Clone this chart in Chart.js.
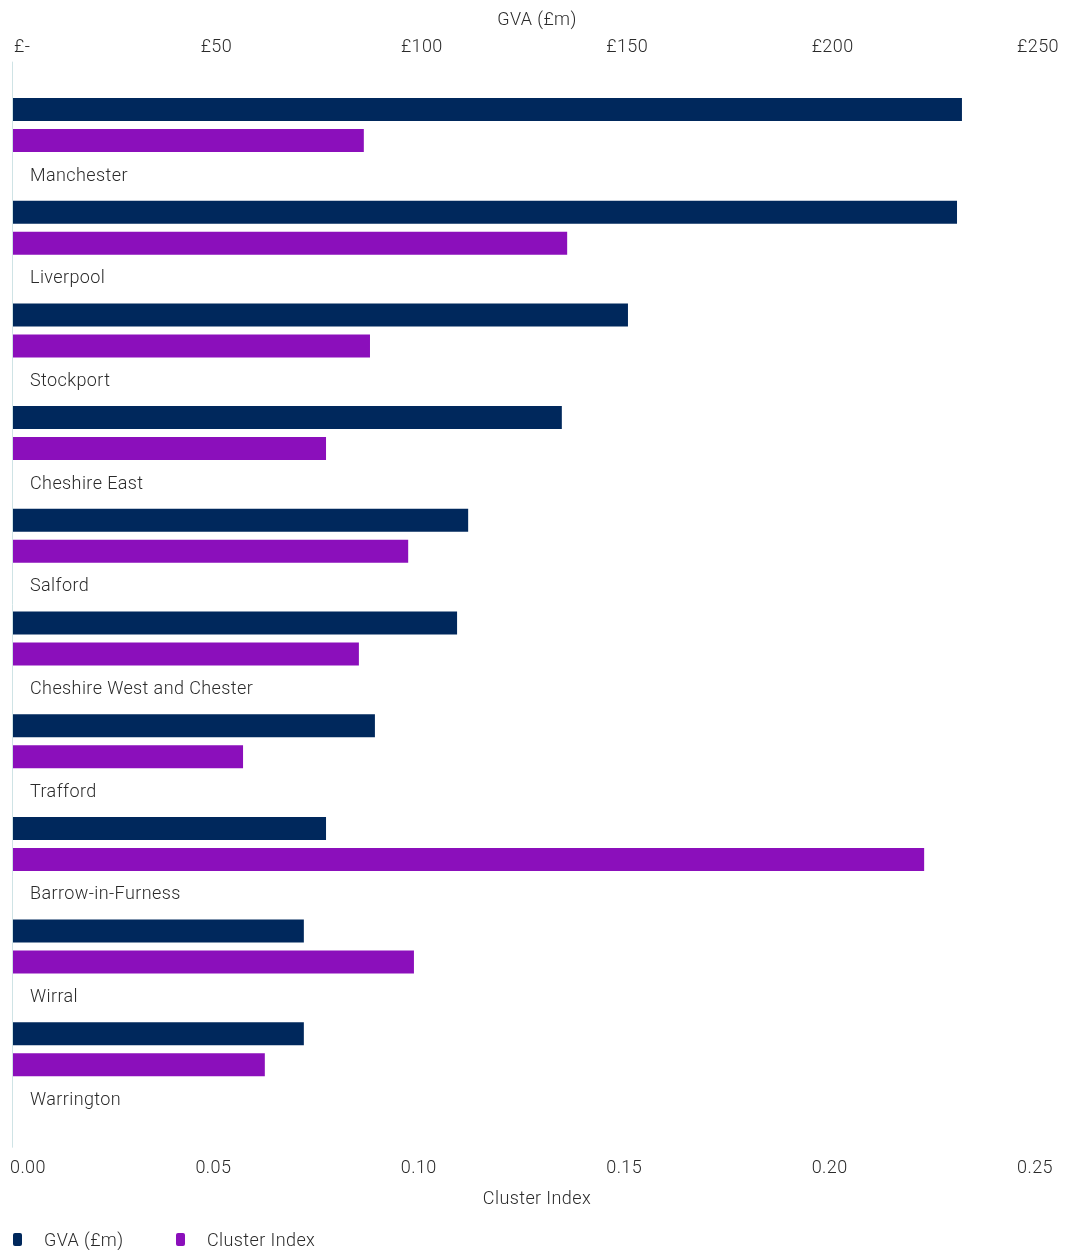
<!DOCTYPE html>
<html>
<head>
<meta charset="utf-8">
<script src="https://cdn.jsdelivr.net/npm/chart.js@4.4.1/dist/chart.umd.min.js"></script>
<style>
  html, body { margin: 0; padding: 0; background: #fff; }
  #chartArea { position: relative; width: 1067px; height: 1250px; }
</style>
</head>
<body>
<div id="chartArea"><canvas id="clusterChart"></canvas></div>
<script>
// --- data ---
const areas = [
  "Manchester", "Liverpool", "Stockport", "Cheshire East", "Salford",
  "Cheshire West and Chester", "Trafford", "Barrow-in-Furness", "Wirral", "Warrington"
];
const gvaValues = [231.0, 229.8, 149.7, 133.6, 110.8, 108.1, 88.1, 76.2, 70.8, 70.8];
const clusterIndex = [0.0854, 0.1349, 0.0869, 0.0762, 0.0962, 0.0842, 0.0560, 0.2218, 0.0976, 0.0613];

const gvaTicks = [0, 50, 100, 150, 200, 250];
const gvaTickLabels = ["£-", "£50", "£100", "£150", "£200", "£250"];
const indexTicks = [0, 0.05, 0.10, 0.15, 0.20, 0.25];
const indexTickLabels = ["0.00", "0.05", "0.10", "0.15", "0.20", "0.25"];

const NAVY = "#00285c";
const PURPLE = "#8b0fbb";
const TEXT = "#2b2b2b";
const FONT_FAMILY = "Roboto, 'Noto Sans', sans-serif";
const FONT = "300 18px " + FONT_FAMILY;
const LETTER_SPACING = "0.4px";

// slightly wider tracking for every label, including the y ticks
const trackingPlugin = {
  id: "tracking",
  beforeDraw(chart) {
    chart.ctx.letterSpacing = LETTER_SPACING;
  }
};

// top/bottom axis labels, titles, the thin y line and the legend
const axisDecorPlugin = {
  id: "axisDecor",
  afterDraw(chart) {
    const { ctx, chartArea: { left, top, bottom } } = chart;
    const xTop = chart.scales.xTop;
    const xBottom = chart.scales.xBottom;
    ctx.save();
    ctx.letterSpacing = LETTER_SPACING;

    ctx.strokeStyle = "#cfe3e5";
    ctx.lineWidth = 1;
    ctx.beginPath();
    ctx.moveTo(left - 0.5, top - 12);
    ctx.lineTo(left - 0.5, bottom + 47);
    ctx.stroke();

    ctx.font = FONT;
    ctx.fillStyle = TEXT;
    ctx.textBaseline = "alphabetic";

    gvaTicks.forEach((v, i) => {
      const px = xTop.getPixelForValue(v);
      ctx.textAlign = i === 0 ? "left" : "center";
      ctx.fillText(gvaTickLabels[i], i === 0 ? px + 1 : px - 2, top - 22);
    });
    indexTicks.forEach((v, i) => {
      const px = xBottom.getPixelForValue(v);
      ctx.textAlign = i === 0 ? "left" : "center";
      ctx.fillText(indexTickLabels[i], i === 0 ? px - 3 : px - 5, bottom + 72);
    });

    // axis titles
    ctx.textAlign = "center";
    ctx.fillText("GVA (£m)", 537, top - 49);
    ctx.fillText("Cluster Index", 537, bottom + 103);

    // legend
    const legendY = chart.height - 4;
    let x = left;
    chart.data.datasets.forEach((ds) => {
      ctx.fillStyle = ds.backgroundColor;
      ctx.beginPath();
      ctx.roundRect(x, legendY - 13, 9, 13, 2);
      ctx.fill();
      ctx.fillStyle = TEXT;
      ctx.textAlign = "left";
      ctx.fillText(ds.label, x + 31, legendY);
      x += 163;
    });

    ctx.restore();
  }
};

function renderClusterChart() {
  const canvas = document.getElementById("clusterChart");
  if (!canvas) return;

  window.clusterChartInstance = new Chart(canvas.getContext("2d"), {
    type: "bar",
    data: {
      labels: areas,
      datasets: [
        {
          label: "GVA (£m)",
          data: gvaValues,
          backgroundColor: NAVY,
          xAxisID: "xTop",
          categoryPercentage: 0.6037,
          barPercentage: 0.742
        },
        {
          label: "Cluster Index",
          data: clusterIndex,
          backgroundColor: PURPLE,
          xAxisID: "xBottom",
          categoryPercentage: 0.6037,
          barPercentage: 0.742
        }
      ]
    },
    options: {
      indexAxis: "y",
      responsive: true,
      maintainAspectRatio: false,
      animation: false,
      layout: { padding: { top: 73.65, bottom: 149.35, left: 13, right: 27 } },
      plugins: {
        legend: { display: false },
        tooltip: { enabled: true }
      },
      scales: {
        xTop: { type: "linear", position: "top", min: 0, max: 250, display: false },
        xBottom: { type: "linear", position: "bottom", min: 0, max: 0.25, display: false },
        y: {
          grid: { display: false, drawTicks: false },
          border: { display: false },
          ticks: {
            mirror: true,
            padding: 17,
            labelOffset: 51,
            autoSkip: false,
            color: TEXT,
            font: { family: FONT_FAMILY, size: 18, weight: 300 }
          },
          // labels sit inside the plot, so the axis itself takes no width
          afterFit(scale) { scale.width = 0; }
        }
      }
    },
    plugins: [trackingPlugin, axisDecorPlugin]
  });
}

renderClusterChart();
</script>
</body>
</html>
